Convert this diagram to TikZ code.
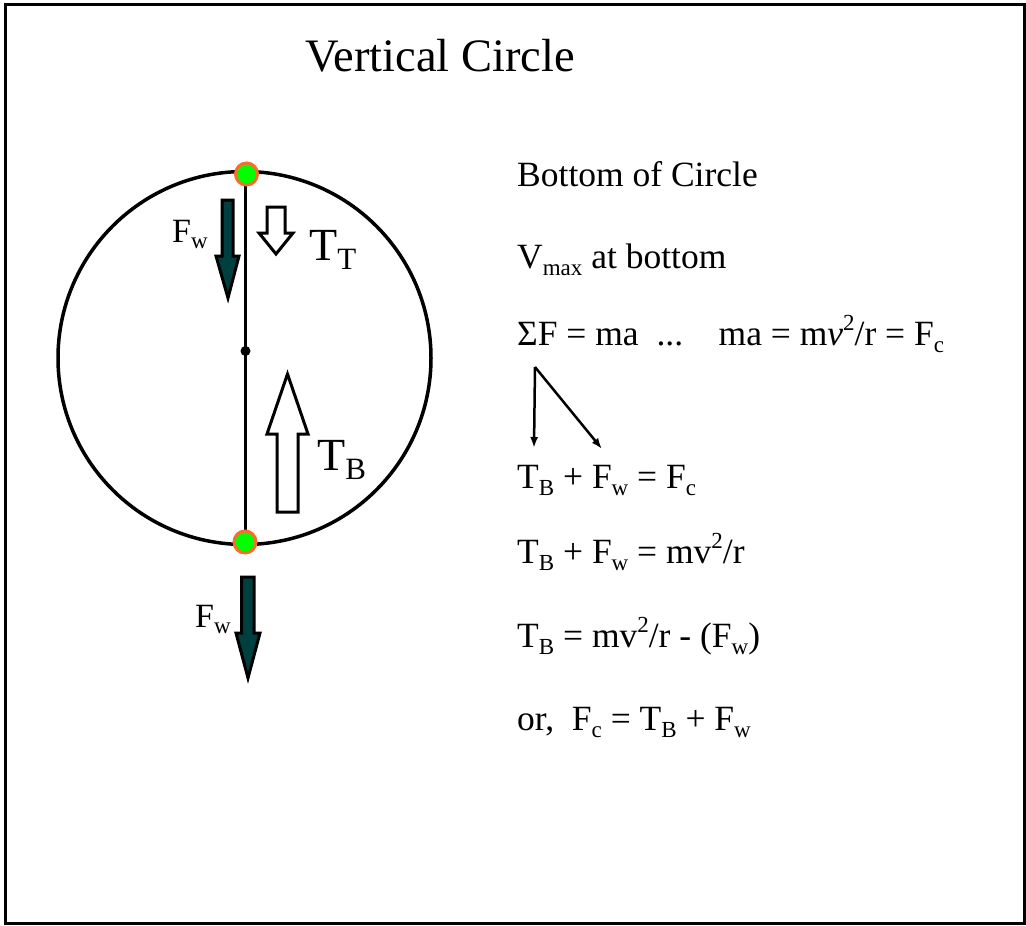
\documentclass[tikz,border=0pt]{standalone}
\usepackage{fontspec}
\setmainfont{Liberation Serif}
\usetikzlibrary{arrows.meta}
\definecolor{teal}{HTML}{003F3F}
\definecolor{dotgreen}{HTML}{00FF00}
\definecolor{dotorange}{HTML}{FF6A2A}
\newcommand\lowx[2]{\raisebox{-0.2em}{\fontsize{#1}{#1}\selectfont #2}}
\newcommand\upx[2]{\raisebox{0.42em}{\fontsize{#1}{#1}\selectfont #2}}
\tikzset{
  eq/.style={anchor=base west, inner sep=0pt, font=\fontsize{35.5}{35.5}\selectfont},
  lbl/.style={anchor=base west, inner sep=0pt},
  dot/.style={circle, fill=dotgreen, draw=dotorange, line width=3pt, minimum size=22pt, inner sep=0pt},
  wforce/.style={fill=teal, draw=black, line width=3pt, line join=miter},
  tforce/.style={fill=white, draw=black, line width=3pt, line join=miter},
  link/.style={line width=2.5pt, -{Latex[length=11pt,width=8pt]}}
}
\begin{document}
\begin{tikzpicture}[x=1pt,y=-1pt]
\useasboundingbox (0,0) rectangle (1026,926);
\fill[white] (0,0) rectangle (1026,926);
\draw[line width=2.5pt] (5.5,4.5) rectangle (1024.5,923.5);
% title
\node[anchor=base, inner sep=0pt, font=\fontsize{46.5}{46.5}\selectfont] (title) at (440,71) {Vertical Circle};
% circle
\draw[line width=3.5pt] (244.5,358) circle[radius=186.5];
\draw[line width=3.5pt] (245.5,175) -- (245.5,542);
\fill (245.5,351) circle[radius=5];
\node[dot] (topdot) at (246.5,174) {};
\node[dot] (botdot) at (245,542) {};
% top weight arrow
\draw[wforce] (222,200) -- (233,200) -- (233,256) -- (239,256) -- (228,298) -- (216,256) -- (222,256) -- cycle;
\node[lbl, font=\fontsize{34}{34}\selectfont] (fwtop) at (172,242) {F\lowx{23}{w}};
% top tension arrow
\draw[tforce] (267,207) -- (285,207) -- (285,233) -- (293,233) -- (276,254) -- (259,233) -- (267,233) -- cycle;
\node[lbl, font=\fontsize{46}{46}\selectfont] (tt) at (309,260) {T\lowx{31}{T}};
% bottom tension arrow
\draw[tforce] (277,512) -- (298,512) -- (298,434) -- (308,434) -- (287.5,374) -- (267,434) -- (277,434) -- cycle;
\node[lbl, font=\fontsize{46}{46}\selectfont] (tb) at (317,470) {T\lowx{31}{B}};
% bottom weight arrow
\draw[wforce] (241.5,577) -- (254,577) -- (254,633) -- (260,633) -- (248,678) -- (236,633) -- (241.5,633) -- cycle;
\node[lbl, font=\fontsize{34}{34}\selectfont] (fwbot) at (195,627) {F\lowx{23}{w}};
% right text
\node[eq] (l1) at (517,186) {Bottom of Circle};
\node[eq] (l2) at (517,268) {V\lowx{23}{max} at bottom};
\node[eq] (l3) at (517,345) {ΣF = ma\ \ ...\ \ \ \ ma = m\textit{v}\upx{23}{2}/r = F\lowx{23}{c}};
\node[eq] (l4) at (517,488) {T\lowx{23}{B} + F\lowx{23}{w} = F\lowx{23}{c}};
\node[eq] (l5) at (517,563) {T\lowx{23}{B} + F\lowx{23}{w} = mv\upx{23}{2}/r};
\node[eq] (l6) at (517,647) {T\lowx{23}{B} = mv\upx{23}{2}/r - (F\lowx{23}{w})};
\node[eq] (l7) at (517,730) {or,\ \ F\lowx{23}{c} = T\lowx{23}{B} + F\lowx{23}{w}};
% links
\coordinate (sig) at (535,367);
\coordinate (tA) at (534,448);
\coordinate (tC) at (602,449);
\draw[link] (sig) -- (tA);
\draw[link] (sig) -- (tC);
\end{tikzpicture}
\end{document}
